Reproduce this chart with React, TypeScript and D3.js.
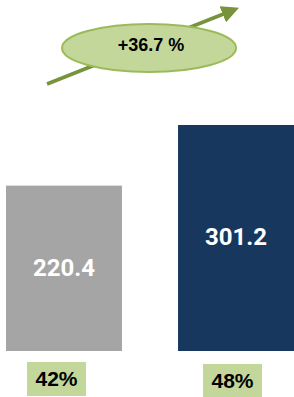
import React from 'react';
import * as d3 from 'd3';

// chart data
const categories = ['prev', 'curr'];
const values = [220.4, 301.2];
const valueLabels = ['220.4', '301.2'];
const shares = ['42%', '48%'];
const growthLabel = '+36.7 %';

const barColors = ['#a5a5a5', '#17375e'];
const green = '#c4d79b';
const greenDark = '#77933c';

const W = 294;
const H = 397;

const App: React.FC = () => {
  const x = d3.scaleBand<string>().domain(categories).range([6, 294]).paddingInner(0.326).paddingOuter(0);
  const y = d3.scaleLinear().domain([0, 301.2]).range([351, 125]);

  // arrow line for the growth marker
  const arrow = d3.line()([
    [47, 84],
    [226, 13],
  ]);

  return (
    <svg width={W} height={H} style={{ position: 'absolute', left: 0, top: 0 }}>
      <defs>
        <marker id="head" viewBox="0 0 10 10" refX="2" refY="5" markerWidth="5" markerHeight="5" orient="auto">
          <path d="M0,0 L10,5 L0,10 z" fill={greenDark} />
        </marker>
      </defs>

      {/* growth arrow and bubble */}
      <path d={arrow || ''} stroke={greenDark} strokeWidth={3.5} fill="none" markerEnd="url(#head)" />
      <ellipse cx={149} cy={48} rx={87} ry={24} fill={green} stroke="#9bbb59" strokeWidth={2} />
      <text x={151} y={46} textAnchor="middle" dominantBaseline="middle" fontFamily="Liberation Sans" fontWeight="bold" fontSize={18} fill="#000">
        {growthLabel}
      </text>

      {categories.map((c, i) => {
        const bx = x(c)!;
        const bw = x.bandwidth();
        const top = y(values[i]);
        const bottom = y(0);
        const cx = bx + bw / 2;
        return (
          <g key={c}>
            <rect x={bx} y={top} width={bw} height={bottom - top} fill={barColors[i]} />
            <text
              x={cx}
              y={(top + bottom) / 2 + 1}
              textAnchor="middle"
              dominantBaseline="middle"
              fontFamily="Roboto"
              fontWeight="bold"
              fontSize={24}
              fill="#fff"
            >
              {valueLabels[i]}
            </text>
            <rect x={cx - 33 + (i === 0 ? -4 : 0)} y={bottom + 11 + i * 2} width={59} height={34} fill={green} />
            <text
              x={cx - 3.5 + (i === 0 ? -4 : 0)}
              y={bottom + 29 + i * 2}
              textAnchor="middle"
              dominantBaseline="middle"
              fontFamily="Liberation Sans"
              fontWeight="bold"
              fontSize={21}
              fill="#000"
            >
              {shares[i]}
            </text>
          </g>
        );
      })}
    </svg>
  );
};

export default App;
